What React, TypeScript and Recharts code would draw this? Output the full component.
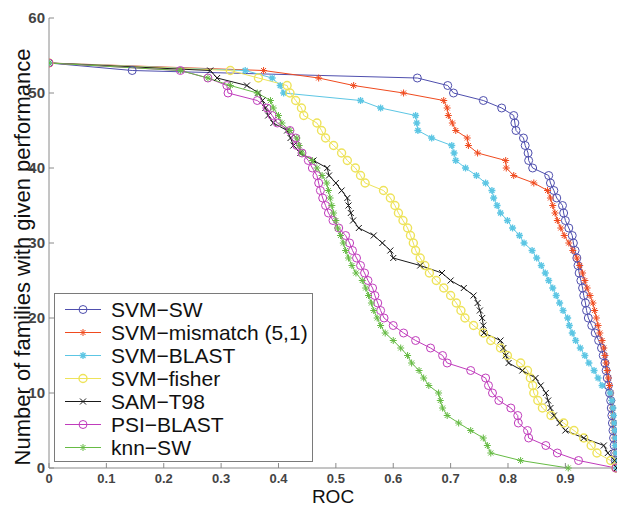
import { LineChart, Line, XAxis, YAxis, Legend } from 'recharts';

type Pt = [number, number];
type MarkerKind = 'circle' | 'star' | 'cross';

// [ROC, number of families]
const svmSw: Pt[] = [
  [0, 54], [0.145, 53], [0.642, 52], [0.695, 51], [0.705, 50], [0.757, 49], [0.789, 48], [0.81, 47],
  [0.812, 46], [0.814, 45], [0.827, 44], [0.83, 43], [0.835, 42], [0.836, 41], [0.843, 40], [0.871, 39],
  [0.874, 38], [0.88, 37], [0.885, 36], [0.895, 35], [0.897, 34], [0.9, 33], [0.906, 32], [0.912, 31],
  [0.914, 30], [0.917, 29], [0.92, 28], [0.922, 27], [0.924, 26], [0.927, 25], [0.93, 24], [0.932, 23],
  [0.935, 22], [0.937, 21], [0.94, 20], [0.946, 19], [0.952, 18], [0.958, 17], [0.963, 16], [0.966, 15],
  [0.969, 14], [0.971, 13], [0.973, 12], [0.975, 11], [0.977, 10], [0.979, 9], [0.98, 8], [0.981, 7],
  [0.982, 6], [0.983, 5], [0.984, 4], [0.985, 3], [0.986, 2], [0.987, 1], [0.988, 0],
];

const svmMismatch: Pt[] = [
  [0, 54], [0.374, 53], [0.47, 52], [0.531, 51], [0.618, 50], [0.688, 49], [0.694, 48], [0.696, 47],
  [0.703, 46], [0.709, 45], [0.729, 44], [0.731, 43], [0.747, 42], [0.796, 41], [0.797, 40], [0.81, 39],
  [0.845, 38], [0.869, 37], [0.874, 36], [0.878, 35], [0.882, 34], [0.886, 33], [0.892, 32], [0.898, 31],
  [0.906, 30], [0.913, 29], [0.92, 28], [0.925, 27], [0.93, 26], [0.934, 25], [0.938, 24], [0.943, 23],
  [0.948, 22], [0.951, 21], [0.954, 20], [0.957, 19], [0.96, 18], [0.964, 17], [0.967, 16], [0.969, 15],
  [0.971, 14], [0.973, 13], [0.975, 12], [0.977, 11], [0.979, 10], [0.981, 9], [0.982, 8], [0.983, 7],
  [0.984, 6], [0.985, 5], [0.986, 4], [0.987, 3], [0.987, 2], [0.988, 1], [0.988, 0],
];

const svmBlast: Pt[] = [
  [0, 54], [0.342, 53], [0.389, 52], [0.403, 51], [0.409, 50], [0.543, 49], [0.578, 48], [0.639, 47],
  [0.641, 46], [0.643, 45], [0.667, 44], [0.702, 43], [0.706, 42], [0.709, 41], [0.726, 40], [0.745, 39],
  [0.761, 38], [0.772, 37], [0.775, 36], [0.781, 35], [0.787, 34], [0.799, 33], [0.808, 32], [0.82, 31],
  [0.828, 30], [0.842, 29], [0.85, 28], [0.858, 27], [0.865, 26], [0.871, 25], [0.878, 24], [0.884, 23],
  [0.89, 22], [0.896, 21], [0.904, 20], [0.907, 19], [0.912, 18], [0.918, 17], [0.926, 16], [0.934, 15],
  [0.941, 14], [0.95, 13], [0.957, 12], [0.964, 11], [0.978, 10], [0.981, 9], [0.983, 8], [0.984, 7],
  [0.985, 6], [0.986, 5], [0.987, 4], [0.987, 3], [0.988, 2], [0.988, 1], [0.989, 0],
];

const svmFisher: Pt[] = [
  [0, 54], [0.316, 53], [0.365, 52], [0.415, 51], [0.42, 50], [0.43, 49], [0.44, 48], [0.444, 47],
  [0.467, 46], [0.475, 45], [0.482, 44], [0.496, 43], [0.51, 42], [0.52, 41], [0.534, 40], [0.543, 39],
  [0.551, 38], [0.583, 37], [0.595, 36], [0.603, 35], [0.609, 34], [0.617, 33], [0.625, 32], [0.63, 31],
  [0.635, 30], [0.639, 29], [0.647, 28], [0.655, 27], [0.663, 26], [0.675, 25], [0.688, 24], [0.7, 23],
  [0.71, 22], [0.718, 21], [0.725, 20], [0.74, 19], [0.757, 18], [0.77, 17], [0.787, 16], [0.799, 15],
  [0.822, 14], [0.834, 13], [0.839, 12], [0.843, 11], [0.845, 10], [0.852, 9], [0.86, 8], [0.875, 7],
  [0.897, 6], [0.915, 5], [0.932, 4], [0.945, 3], [0.955, 2], [0.979, 1], [0.988, 0],
];

const samT98: Pt[] = [
  [0, 54], [0.281, 53], [0.293, 52], [0.345, 51], [0.365, 50], [0.372, 49], [0.377, 48], [0.382, 47],
  [0.391, 46], [0.415, 45], [0.421, 44], [0.426, 43], [0.438, 42], [0.461, 41], [0.485, 40], [0.488, 39],
  [0.5, 38], [0.51, 37], [0.52, 36], [0.522, 35], [0.526, 34], [0.53, 33], [0.54, 32], [0.566, 31],
  [0.581, 30], [0.595, 29], [0.6, 28], [0.647, 27], [0.685, 26], [0.7, 25], [0.723, 24], [0.74, 23],
  [0.747, 22], [0.751, 21], [0.755, 20], [0.757, 19], [0.758, 18], [0.787, 17], [0.792, 16], [0.796, 15],
  [0.801, 14], [0.825, 13], [0.848, 12], [0.857, 11], [0.866, 10], [0.87, 9], [0.874, 8], [0.88, 7],
  [0.89, 6], [0.9, 5], [0.932, 4], [0.967, 3], [0.974, 2], [0.986, 1], [0.99, 0],
];

const psiBlast: Pt[] = [
  [0, 54], [0.229, 53], [0.277, 52], [0.31, 51], [0.312, 50], [0.363, 49], [0.38, 48], [0.389, 47],
  [0.398, 46], [0.42, 45], [0.43, 44], [0.432, 43], [0.441, 42], [0.452, 41], [0.459, 40], [0.467, 39],
  [0.47, 38], [0.473, 37], [0.477, 36], [0.482, 35], [0.487, 34], [0.495, 33], [0.505, 32], [0.517, 31],
  [0.524, 30], [0.529, 29], [0.536, 28], [0.543, 27], [0.55, 26], [0.556, 25], [0.564, 24], [0.568, 23],
  [0.573, 22], [0.578, 21], [0.584, 20], [0.6, 19], [0.618, 18], [0.639, 17], [0.665, 16], [0.686, 15],
  [0.694, 14], [0.735, 13], [0.761, 12], [0.766, 11], [0.773, 10], [0.784, 9], [0.805, 8], [0.817, 7],
  [0.818, 6], [0.834, 5], [0.836, 4], [0.866, 3], [0.886, 2], [0.923, 1], [0.988, 0],
];

const knnSw: Pt[] = [
  [0, 54], [0.229, 53], [0.277, 52], [0.316, 51], [0.363, 50], [0.386, 49], [0.391, 48], [0.4, 47],
  [0.406, 46], [0.42, 45], [0.432, 44], [0.436, 43], [0.441, 42], [0.459, 41], [0.467, 40], [0.476, 39],
  [0.484, 38], [0.487, 37], [0.49, 36], [0.493, 35], [0.496, 34], [0.5, 33], [0.503, 32], [0.508, 31],
  [0.513, 30], [0.517, 29], [0.522, 28], [0.528, 27], [0.535, 26], [0.546, 25], [0.552, 24], [0.557, 23],
  [0.562, 22], [0.566, 21], [0.572, 20], [0.578, 19], [0.586, 18], [0.6, 17], [0.613, 16], [0.625, 15],
  [0.632, 14], [0.645, 13], [0.653, 12], [0.662, 11], [0.679, 10], [0.682, 9], [0.686, 8], [0.694, 7],
  [0.714, 6], [0.735, 5], [0.757, 4], [0.764, 3], [0.77, 2], [0.822, 1], [0.905, 0],
];

const xTicks = [0, 0.1, 0.2, 0.3, 0.4, 0.5, 0.6, 0.7, 0.8, 0.9];
const yTicks = [0, 10, 20, 30, 40, 50, 60];

const SERIES: { name: string; points: Pt[]; color: string; marker: MarkerKind; width: number }[] = [
  { name: 'SVM\u2212SW', points: svmSw, color: '#4f4fae', marker: 'circle', width: 1 },
  { name: 'SVM\u2212mismatch (5,1)', points: svmMismatch, color: '#f04a1e', marker: 'star', width: 1 },
  { name: 'SVM\u2212BLAST', points: svmBlast, color: '#5cc6e4', marker: 'star', width: 1.3 },
  { name: 'SVM\u2212fisher', points: svmFisher, color: '#eee35a', marker: 'circle', width: 1.4 },
  { name: 'SAM\u2212T98', points: samT98, color: '#1a1a1a', marker: 'cross', width: 1 },
  { name: 'PSI\u2212BLAST', points: psiBlast, color: '#c03cbc', marker: 'circle', width: 1 },
  { name: 'knn\u2212SW', points: knnSw, color: '#66bb44', marker: 'star', width: 1 },
];

const FONT = '"Liberation Sans", Arial, Helvetica, sans-serif';

function Marker({ kind, x, y, color, w }: { kind: MarkerKind; x: number; y: number; color: string; w: number }) {
  if (kind === 'circle') {
    return <circle cx={x} cy={y} r={4} fill="none" stroke={color} strokeWidth={w} />;
  }
  if (kind === 'cross') {
    const s = 3;
    return <path d={`M${x - s},${y - s}L${x + s},${y + s}M${x - s},${y + s}L${x + s},${y - s}`} stroke={color} strokeWidth={w} />;
  }
  const s = 3.5;
  const d = 2.5;
  return (
    <path
      d={`M${x - s},${y}L${x + s},${y}M${x},${y - s}L${x},${y + s}M${x - d},${y - d}L${x + d},${y + d}M${x - d},${y + d}L${x + d},${y - d}`}
      stroke={color}
      strokeWidth={w}
    />
  );
}

function makeDot(kind: MarkerKind, color: string, w: number) {
  return (props: any) => {
    const { cx, cy, index } = props;
    if (cx == null || cy == null) return <g key={`e-${index}`} />;
    return (
      <g key={`m-${index}`}>
        <Marker kind={kind} x={cx} y={cy} color={color} w={w} />
      </g>
    );
  };
}

function XTick({ x, y, payload }: any) {
  return (
    <g>
      <line x1={x} y1={y} x2={x} y2={y - 5} stroke="#8a8a8a" />
      <text x={x} y={y + 14.5} textAnchor="middle" fontSize={13} fontWeight="bold" fill="#444" fontFamily={FONT}>
        {payload.value}
      </text>
    </g>
  );
}

function YTick({ x, y, payload }: any) {
  return (
    <g>
      <line x1={x} y1={y} x2={x + 5} y2={y} stroke="#8a8a8a" />
      <text x={x - 4} y={y + 5} textAnchor="end" fontSize={15} fontWeight="bold" fill="#444" fontFamily={FONT}>
        {payload.value}
      </text>
    </g>
  );
}

function YTitle({ viewBox }: any) {
  const cy = viewBox.y + viewBox.height / 2 + 14;
  return (
    <text x={30} y={cy} transform={`rotate(-90 30 ${cy})`} textAnchor="middle" fontSize={22} fill="#111" fontFamily={FONT}>
      Number of families with given performance
    </text>
  );
}

function XTitle({ viewBox }: any) {
  return (
    <text x={viewBox.x + viewBox.width / 2} y={viewBox.y + 34.5} textAnchor="middle" fontSize={19} fill="#111" fontFamily={FONT}>
      ROC
    </text>
  );
}

function LegendBox() {
  return (
    <div style={{ width: 259, height: 169, border: '1px solid #7a7a7a', background: '#fff', boxSizing: 'border-box', fontFamily: FONT }}>
      {SERIES.map((s, i) => (
        <div key={s.name} style={{ position: 'absolute', left: 0, top: 5 + i * 23, height: 23, display: 'flex', alignItems: 'center' }}>
          <svg width={57} height={23} style={{ display: 'block' }}>
            <line x1={11} y1={11.5} x2={47} y2={11.5} stroke={s.color} strokeWidth={1} />
            <Marker kind={s.marker} x={29} y={11.5} color={s.color} w={s.width} />
          </svg>
          <span style={{ fontSize: 21, color: '#111', lineHeight: '23px', whiteSpace: 'nowrap' }}>{s.name}</span>
        </div>
      ))}
    </div>
  );
}

export default function App() {
  return (
    <div style={{ width: 617, height: 507, background: '#fff' }}>
      <style>{'body{margin:0;background:#fff}'}</style>
      <LineChart width={617} height={507} margin={{ top: 18, right: 0, bottom: 0, left: 0 }}>
        <XAxis
          type="number"
          dataKey="x"
          domain={[0, 0.99]}
          ticks={xTicks}
          allowDataOverflow
          height={39}
          stroke="#8a8a8a"
          tickLine={false}
          tickSize={0}
          tickMargin={0}
          tick={<XTick />}
          label={<XTitle />}
        />
        <YAxis
          type="number"
          domain={[0, 60]}
          ticks={yTicks}
          width={49}
          stroke="#8a8a8a"
          tickLine={false}
          tickSize={0}
          tickMargin={0}
          tick={<YTick />}
          label={<YTitle />}
        />
        {SERIES.map(s => (
          <Line
            key={s.name}
            name={s.name}
            data={s.points.map(([x, y]) => ({ x, y }))}
            dataKey="y"
            type="linear"
            stroke={s.color}
            strokeWidth={1}
            dot={makeDot(s.marker, s.color, s.width)}
            activeDot={false}
            isAnimationActive={false}
          />
        ))}
        <Legend
          layout="vertical"
          align="center"
          verticalAlign="middle"
          content={<LegendBox />}
          wrapperStyle={{ left: 54, top: 293, width: 259, height: 169 }}
        />
      </LineChart>
    </div>
  );
}
